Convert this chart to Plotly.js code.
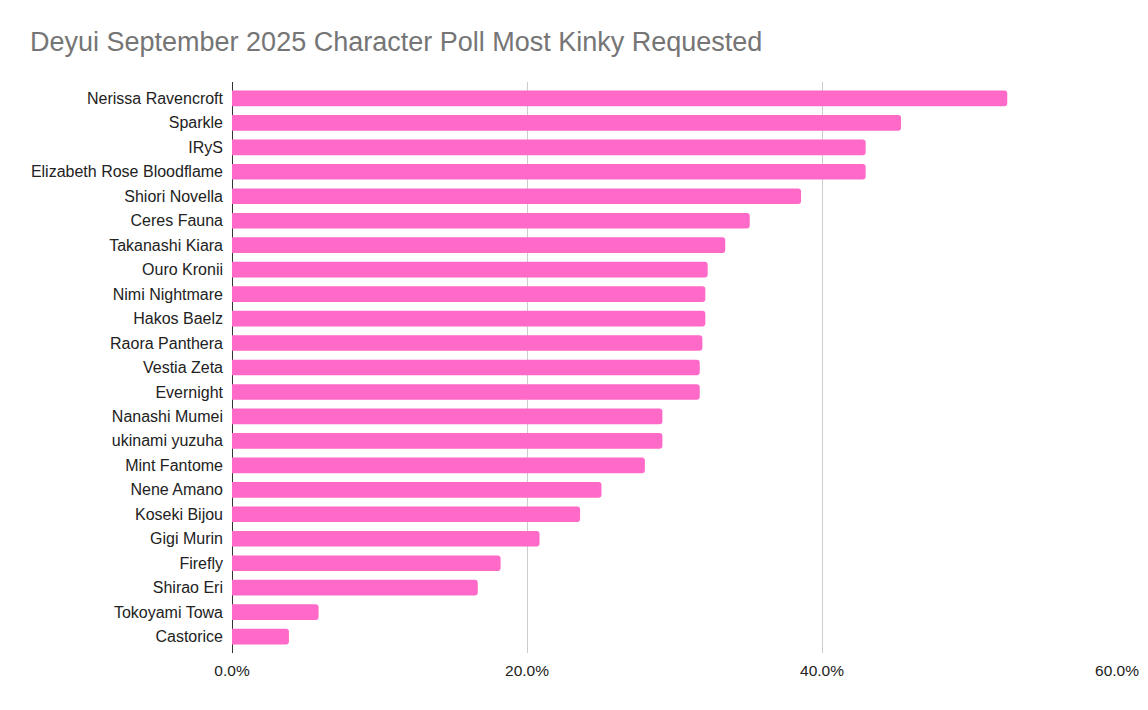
<!DOCTYPE html>
<html>
<head>
<meta charset="utf-8">
<script src="https://cdn.plot.ly/plotly-3.0.1.min.js"></script>
<style>
  html, body { margin: 0; padding: 0; background: #fff; }
  #chart { width: 1148px; height: 710px; }
</style>
</head>
<body>
<div id="chart"></div>
<script>
let characters = [
  'Nerissa Ravencroft', 'Sparkle', 'IRyS', 'Elizabeth Rose Bloodflame',
  'Shiori Novella', 'Ceres Fauna', 'Takanashi Kiara', 'Ouro Kronii',
  'Nimi Nightmare', 'Hakos Baelz', 'Raora Panthera', 'Vestia Zeta',
  'Evernight', 'Nanashi Mumei', 'ukinami yuzuha', 'Mint Fantome',
  'Nene Amano', 'Koseki Bijou', 'Gigi Murin', 'Firefly',
  'Shirao Eri', 'Tokoyami Towa', 'Castorice'
];
let share = [
  0.5256, 0.4536, 0.4296, 0.4296,
  0.3858, 0.3510, 0.3344, 0.3225,
  0.3209, 0.3209, 0.3189, 0.3171,
  0.3171, 0.2918, 0.2918, 0.2799,
  0.2505, 0.2360, 0.2085, 0.1821,
  0.1666, 0.0587, 0.0386
];
let xTicks = [0, 0.2, 0.4, 0.6];

let trace = {
  type: 'bar',
  orientation: 'h',
  x: share,
  y: characters,
  marker: { color: '#ff69c7', cornerradius: 3 },
  hovertemplate: '%{y}: %{x:.1%}<extra></extra>'
};

// a little padding above the first and below the last bar, like the axis line
let pad = 0.17;

let layout = {
  width: 1148,
  height: 710,
  margin: { l: 232, r: 31, t: 82, b: 57 },
  paper_bgcolor: '#ffffff',
  plot_bgcolor: '#ffffff',
  bargap: 0.36,
  showlegend: false,
  font: { family: 'Liberation Sans, Arial, sans-serif', color: '#222222' },
  title: {
    text: 'Deyui September 2025 Character Poll Most Kinky Requested',
    font: { family: 'Liberation Sans, Arial, sans-serif', size: 27, color: '#757575' },
    xref: 'container', yref: 'container',
    x: 30 / 1148, xanchor: 'left',
    y: 1 - 42 / 710, yanchor: 'middle'
  },
  xaxis: {
    range: [0, 0.6],
    tickvals: xTicks,
    tickformat: '.1%',
    showgrid: true,
    gridcolor: '#cccccc',
    gridwidth: 1,
    zeroline: true,
    zerolinecolor: '#333333',
    zerolinewidth: 1,
    showline: false,
    ticks: '',
    ticklabelstandoff: 6,
    tickfont: { size: 15.5, color: '#222222' },
    fixedrange: true
  },
  yaxis: {
    type: 'category',
    range: [characters.length - 0.5 + pad, -0.5 - pad],
    showgrid: false,
    zeroline: false,
    showline: false,
    ticks: '',
    ticklabelstandoff: 8,
    tickfont: { size: 16, color: '#222222' },
    fixedrange: true
  }
};

Plotly.newPlot('chart', [trace], layout, { displayModeBar: false, staticPlot: true });
</script>
</body>
</html>
